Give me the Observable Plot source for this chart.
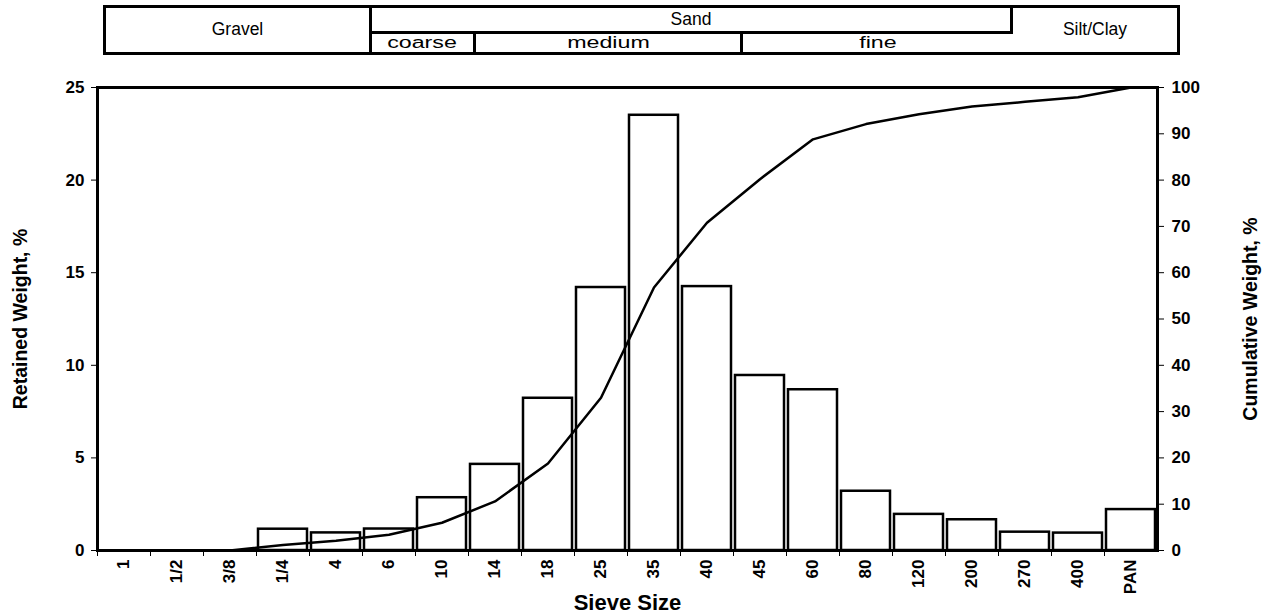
<!DOCTYPE html>
<html>
<head>
<meta charset="utf-8">
<script src="https://cdn.jsdelivr.net/npm/d3@7"></script>
<script src="https://cdn.jsdelivr.net/npm/@observablehq/plot@0.6"></script>
<style>
html,body{margin:0;padding:0;background:#fff;}
#wrap{position:relative;width:1265px;height:615px;font-family:"Liberation Sans",Arial,sans-serif;overflow:hidden;}
#chart{position:absolute;left:0;top:0;}
#hdr{position:absolute;left:103px;top:5px;width:1077px;height:50px;box-sizing:border-box;border:3px solid #000;background:#fff;}
.c{position:absolute;box-sizing:border-box;display:flex;align-items:center;justify-content:center;font-size:17.5px;color:#000;line-height:1;}
.s span{display:inline-block;transform:scaleX(1.45);font-size:16px;}
</style>
</head>
<body>
<div id="wrap">
  <div id="chart"></div>
  <div id="hdr">
    <div class="c" style="left:0;top:0;width:266px;height:44px;border-right:3px solid #000;">Gravel</div>
    <div class="c" style="left:266px;top:0;width:641px;height:26px;border-bottom:3px solid #000;border-right:3px solid #000;padding-top:1px;">Sand</div>
    <div class="c s" style="left:266px;top:26px;width:104px;height:18px;border-right:3px solid #000;"><span>coarse</span></div>
    <div class="c s" style="left:370px;top:26px;width:267px;height:18px;border-right:3px solid #000;"><span>medium</span></div>
    <div class="c s" style="left:637px;top:26px;width:270px;height:18px;"><span>fine</span></div>
    <div class="c" style="left:907px;top:0;width:164px;height:44px;">Silt/Clay</div>
  </div>
</div>
<script>
// ---- data ----
const sieves = ["1","1/2","3/8","1/4","4","6","10","14","18","25","35","40","45","60","80","120","200","270","400","PAN"];
const retained = [0, 0, 0, 1.15, 0.95, 1.16, 2.85, 4.65, 8.22, 14.2, 23.5, 14.25, 9.45, 8.68, 3.2, 1.95, 1.66, 0.99, 0.94, 2.21];
const cumulative = [0, 0, 0, 1.2, 2.1, 3.4, 6.0, 10.6, 18.8, 33.0, 56.8, 70.8, 80.2, 88.8, 92.1, 94.2, 95.9, 96.9, 97.9, 100];
const leftTicks = [0, 5, 10, 15, 20, 25];
const rightTicks = [0, 10, 20, 30, 40, 50, 60, 70, 80, 90, 100];
const xTitle = "Sieve Size";
const yTitleLeft = "Retained Weight, %";
const yTitleRight = "Cumulative Weight, %";

const data = sieves.map((s, i) => ({sieve: s, retained: retained[i], cumulative: cumulative[i]}));

const W = 1265, H = 615, mL = 97, mR = 108, mT = 87, mB = 65;
const leftMax = 25, rightMax = 100;
const toLeft = v => v * leftMax / rightMax;
const step = (W - mL - mR) / sieves.length;

const chart = Plot.plot({
  width: W, height: H,
  marginLeft: mL, marginRight: mR, marginTop: mT, marginBottom: mB,
  style: {fontFamily: "'Liberation Sans', Arial, sans-serif", fontSize: "17px", fontWeight: "bold", color: "#000", background: "#fff"},
  x: {type: "band", domain: sieves, paddingInner: 0.07, paddingOuter: 0.035},
  y: {domain: [0, leftMax]},
  marks: [
    Plot.barY(data, {x: "sieve", y: "retained", fill: "white", stroke: "black", strokeWidth: 2.5}),
    Plot.line(data, {x: "sieve", y: d => toLeft(d.cumulative), stroke: "black", strokeWidth: 2.5}),
    Plot.frame({stroke: "black", strokeWidth: 3}),
    Plot.axisY({anchor: "left", ticks: leftTicks, tickSize: 6, tickPadding: 7, label: null}),
    Plot.axisY({anchor: "right", ticks: rightTicks.map(toLeft), tickFormat: d => String(Math.round(d * rightMax / leftMax)), tickSize: 6, tickPadding: 8, label: null}),
    Plot.axisX({anchor: "bottom", tickSize: 0, tickRotate: -90, tickPadding: 9, label: null}),
    Plot.axisX({anchor: "bottom", tickSize: 6, tickFormat: () => "", dx: -step / 2, label: null}),
    Plot.text([yTitleLeft], {text: d => d, frameAnchor: "left", textAnchor: "middle", dx: -77, rotate: -90, fontSize: 19.5, fontWeight: "bold"}),
    Plot.text([yTitleRight], {text: d => d, frameAnchor: "right", textAnchor: "middle", dx: 93, rotate: -90, fontSize: 19.5, fontWeight: "bold"}),
    Plot.text([xTitle], {text: d => d, frameAnchor: "bottom", dy: 59, fontSize: 22, fontWeight: "bold"})
  ]
});
document.getElementById("chart").appendChild(chart);
</script>
</body>
</html>
